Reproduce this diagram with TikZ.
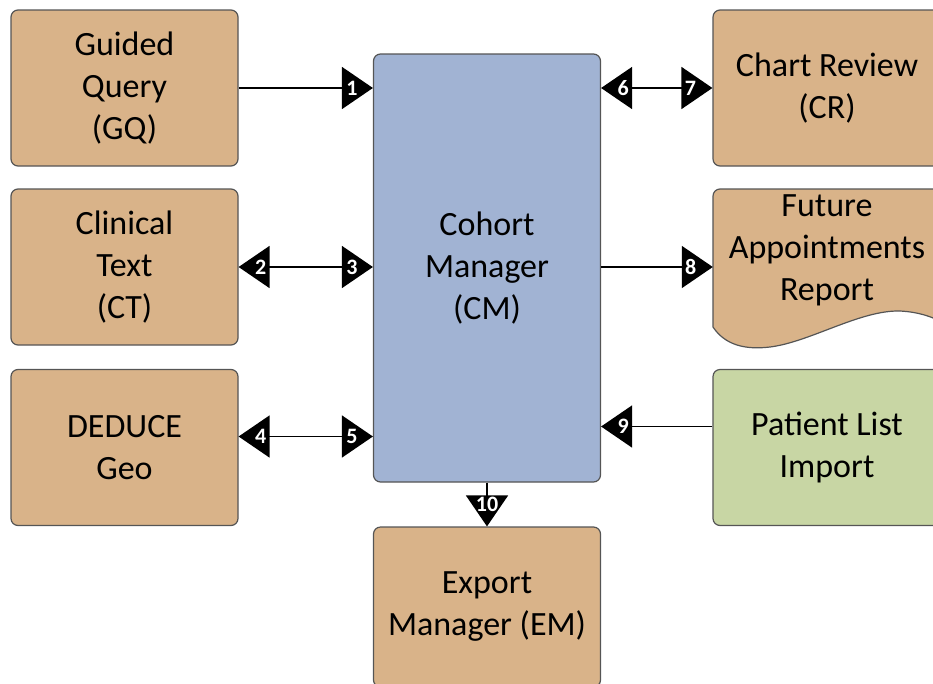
\documentclass[tikz,border=0pt]{standalone}
\usepackage{fontspec}
\setmainfont{Carlito}
\usepackage{tikz}
\usetikzlibrary{arrows.meta}
\definecolor{tanbox}{RGB}{217,179,137}
\definecolor{bluebox}{RGB}{161,179,211}
\definecolor{greenbox}{RGB}{200,214,164}
\definecolor{edgegray}{RGB}{85,85,85}

\tikzset{
  box/.style={draw=edgegray, line width=1.2pt, rounded corners=7pt, fill=tanbox,
    minimum width=227pt, minimum height=156pt, align=center, inner sep=0pt,
    font=\fontsize{34}{42}\selectfont},
  num/.style={text=white, inner sep=0pt, font=\bfseries\fontsize{22}{22}\selectfont},
  tri/.tip={Triangle[length=31pt,width=42pt]},
  link/.style={line width=1.6pt, black}
}

\begin{document}
\begin{tikzpicture}[x=1pt,y=-1pt]
\useasboundingbox (0,0) rectangle (933,683);
\clip (0,0) rectangle (933,683);
% left column
\node[box] (gq) at (124.5,88) {Guided\\Query\\(GQ)};
\node[box] (ct) at (124.5,267) {Clinical\\Text\\(CT)};
\node[box] (dd) at (124.5,447.5) {DEDUCE\\Geo};
% middle
\node[box, fill=bluebox, minimum height=428pt] (cm) at (487,268) {Cohort\\Manager\\(CM)};
\node[box, minimum height=160pt] (em) at (487,607) {Export\\Manager (EM)};
% right column
\node[box, minimum width=228pt] (cr) at (827,88) {Chart Review\\(CR)};
\node[box, minimum width=228pt, fill=greenbox] (pl) at (827,447.5) {Patient List\\Import};
\draw[draw=edgegray, line width=1.2pt, fill=tanbox]
  (713,327) [rounded corners=7pt] -- (713,189) -- (941,189) [sharp corners] -- (941,322)
  .. controls (935,318) and (920,312) .. (900,311)
  .. controls (860,310) and (810,342) .. (770,347)
  .. controls (745,350) and (725,345) .. (713,327) -- cycle;
\node[minimum width=228pt, minimum height=156pt, inner sep=0pt] (fa) at (827,267) {};
\node[align=center, inner sep=0pt, font=\fontsize{34}{42}\selectfont] (fatext) at (827,250)
  {Future\\Appointments\\Report};

% connectors
\draw[link, -tri] (gq.east) -- (cm.west |- gq.east)
  node[num, pos=1, xshift=-21pt] {1};
\draw[link, tri-tri] (ct.east) -- (cm.west |- ct.east)
  node[num, pos=0, xshift=22pt] {2}
  node[num, pos=1, xshift=-21pt] {3};
\coordinate (d4) at ([yshift=11pt]dd.east);
\draw[link, tri-tri] (d4) -- (cm.west |- d4)
  node[num, pos=0, xshift=22pt] {4}
  node[num, pos=1, xshift=-21pt] {5};
\draw[link, tri-tri] (cm.east |- cr.west) -- (cr.west)
  node[num, pos=0, xshift=22pt] {6}
  node[num, pos=1, xshift=-22pt] {7};
\draw[link, -tri] (cm.east |- fa.west) -- (fa.west)
  node[num, pos=1, xshift=-22pt] {8};
\coordinate (p9) at ([yshift=21pt]pl.west);
\draw[link, -tri] (p9) -- (cm.east |- p9)
  node[num, pos=1, xshift=22pt] {9};
\draw[link, -tri] (cm.south) -- (em.north)
  node[num, pos=1, yshift=22pt] {10};
\end{tikzpicture}
\end{document}
